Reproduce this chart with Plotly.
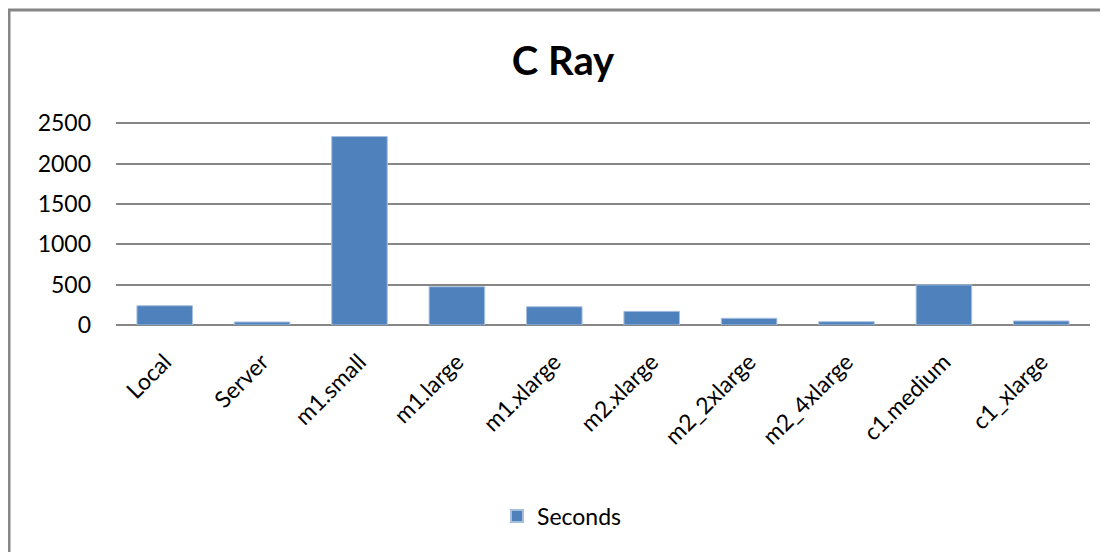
import plotly.graph_objects as go

categories = ["Local", "Server", "m1.small", "m1.large", "m1.xlarge", "m2.xlarge",
              "m2_2xlarge", "m2_4xlarge", "c1.medium", "c1_xlarge"]
seconds = [239, 37, 2335, 474, 226, 169, 83, 41, 497, 50]
y_ticks = [0, 500, 1000, 1500, 2000, 2500]

# page body has an 8px margin; work in page pixels and offset
OFF = 8
W, H = 1108 - OFF, 552 - OFF
Y_MAX = 2540
L, R, B = 116 - OFF, 1090 - OFF, 325 - OFF
T = B - round(202 * Y_MAX / 2500)

fig = go.Figure()
fig.add_trace(go.Bar(
    x=categories, y=seconds, name="Seconds",
    marker=dict(color="#4F81BD", line=dict(color="#A7BFDE", width=1)),
    showlegend=True,
))

def px(x):
    return (x - OFF - L) / (R - L)

def py(y):
    return (B - (y - OFF)) / (B - T)

fig.update_layout(
    width=W, height=H,
    margin=dict(l=L, r=W - R, t=T, b=H - B, pad=0),
    paper_bgcolor="white", plot_bgcolor="white",
    font=dict(family="Lato, 'Open Sans', sans-serif", color="black", size=22),
    title=dict(text="<b>C Ray</b>", xref="paper", x=px(563), xanchor="center",
               y=1 - (61 - OFF) / H, yanchor="middle",
               font=dict(size=40, family="Lato, sans-serif", color="black")),
    bargap=0.43,
    xaxis=dict(showgrid=False, showline=False, tickangle=-45, ticks="",
               ticklabelstandoff=18, tickfont=dict(size=23)),
    yaxis=dict(range=[0, Y_MAX], tickvals=y_ticks, showgrid=True, gridcolor="#868686",
               gridwidth=1.8, zeroline=True, zerolinecolor="#868686", zerolinewidth=1.8,
               showline=False, ticks="", ticklabelstandoff=24, tickfont=dict(size=23)),
    legend=dict(orientation="h", x=px(562), xanchor="center", y=py(516), yanchor="middle",
                font=dict(size=23), itemsizing="constant"),
    shapes=[
        dict(type="line", xref="paper", yref="paper", x0=px(8.5), x1=px(8.5), y0=py(9), y1=py(600),
             line=dict(color="#868686", width=4)),
        dict(type="line", xref="paper", yref="paper", x0=px(7), x1=px(1200), y0=py(10), y1=py(10),
             line=dict(color="#868686", width=3)),
    ],
)

fig.write_html("out.html")
